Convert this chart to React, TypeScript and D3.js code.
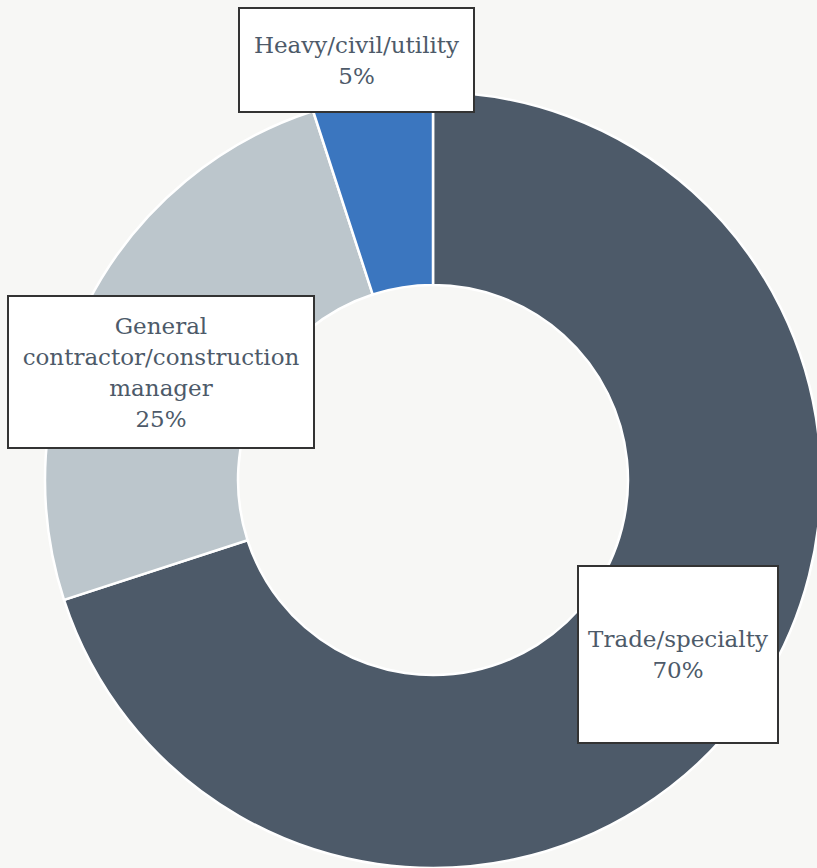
import React from "react";
import * as d3 from "d3";

const categories = ["Trade/specialty", "General contractor/construction manager", "Heavy/civil/utility"];
const labelLines = [["Trade/specialty"], ["General", "contractor/construction", "manager"], ["Heavy/civil/utility"]];
const values = [70, 25, 5];
const colors = ["#4d5a69", "#bcc6cc", "#3b76bf"];

const W = 817;
const H = 868;
const CX = 433;
const CY = 480;
const R_OUT = 388;
const R_IN = 195;
// label box layout: [centerX, centerY, width, height]
const boxes: [number, number, number, number][] = [
  [678, 654.5, 200, 177],
  [161, 372, 306, 152],
  [356.5, 60, 235, 104],
];
const LINE_H = 31;
const FONT = "'DejaVu Serif', serif";

export default function App() {
  const pie = d3.pie<number>().sort(null).value((d) => d)(values);
  const arc = d3.arc<d3.PieArcDatum<number>>().innerRadius(R_IN).outerRadius(R_OUT);
  return (
    <div style={{ position: "fixed", left: 0, top: 0 }}>
      <svg width={W} height={H} style={{ display: "block", background: "#f7f7f5" }}>
        <g transform={`translate(${CX},${CY})`}>
          {pie.map((p, i) => (
            <path key={i} d={arc(p) || ""} fill={colors[i]} stroke="#ffffff" strokeWidth={2.5} />
          ))}
        </g>
        {boxes.map(([bx, by, bw, bh], i) => {
          const lines = [...labelLines[i], `${values[i]}%`];
          const y0 = by - ((lines.length - 1) * LINE_H) / 2;
          return (
            <g key={i}>
              <rect x={bx - bw / 2} y={by - bh / 2} width={bw} height={bh} fill="#ffffff" stroke="#333333" strokeWidth={2} />
              {lines.map((t, j) => (
                <text key={j} x={bx} y={y0 + j * LINE_H} textAnchor="middle" dominantBaseline="central"
                  fontFamily={FONT} fontSize={23} fill="#4d5a69">{t}</text>
              ))}
            </g>
          );
        })}
      </svg>
    </div>
  );
}
